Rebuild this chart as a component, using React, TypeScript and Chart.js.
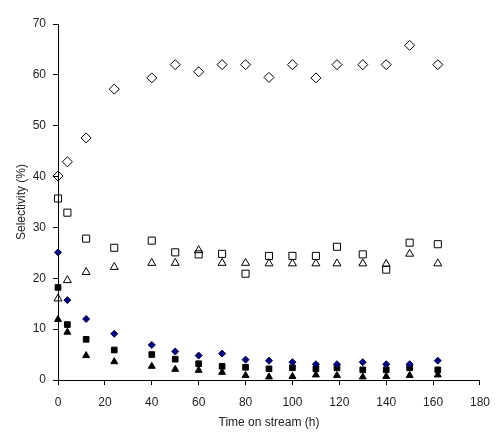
import React, { useEffect, useRef } from "react";
import { Chart, registerables } from "chart.js";

Chart.register(...registerables);

const times = [0, 4, 12, 24, 40, 50, 60, 70, 80, 90, 100, 110, 119, 130, 140, 150, 162];
const openDiamond = [40.1, 42.9, 47.6, 57.2, 59.4, 62.0, 60.6, 62.0, 62.0, 59.5, 62.0, 59.4, 62.0, 62.0, 62.0, 65.8, 62.0];
const openSquare = [35.7, 32.9, 27.8, 26.0, 27.4, 25.1, 24.7, 24.8, 20.9, 24.4, 24.4, 24.4, 26.2, 24.7, 21.7, 27.0, 26.7];
const openTriangle = [16.0, 19.6, 21.2, 22.2, 23.0, 23.0, 25.5, 23.0, 23.0, 22.9, 22.9, 22.9, 22.9, 22.9, 22.8, 24.8, 22.9];
const filledDiamond = [25.1, 15.7, 12.0, 9.1, 6.9, 5.6, 4.8, 5.2, 4.0, 3.8, 3.5, 3.1, 3.1, 3.5, 3.1, 3.1, 3.8];
const filledSquare = [18.2, 10.9, 8.0, 5.9, 5.0, 4.1, 3.2, 2.7, 2.5, 2.2, 2.4, 2.2, 2.4, 2.0, 2.0, 2.4, 2.0];
const filledTriangle = [11.9, 9.4, 4.8, 3.6, 2.7, 2.1, 1.9, 1.5, 0.9, 0.6, 0.7, 1.0, 0.9, 0.6, 0.7, 0.9, 1.0];

const xTitle = "Time on stream (h)";
const yTitle = "Selectivity (%)";

const toPoints = (ys: number[]) => times.map((t, i) => ({ x: t, y: ys[i] }));

export default function App() {
  const ref = useRef<HTMLCanvasElement | null>(null);

  useEffect(() => {
    if (!ref.current) return;
    const font = { family: "'Liberation Sans', Arial, sans-serif", size: 12 };
    const base = { showLine: false, clip: false as any, borderWidth: 1 };
    const chart = new Chart(ref.current, {
      type: "scatter",
      data: {
        datasets: [
          { ...base, label: "a", data: toPoints(openDiamond), pointStyle: "rectRot", pointRadius: 5, backgroundColor: "rgba(0,0,0,0)", borderColor: "#000" },
          { ...base, label: "b", data: toPoints(openSquare), pointStyle: "rect", pointRadius: 5, backgroundColor: "rgba(0,0,0,0)", borderColor: "#000" },
          { ...base, label: "c", data: toPoints(openTriangle), pointStyle: "triangle", pointRadius: 4.6, backgroundColor: "rgba(0,0,0,0)", borderColor: "#000" },
          { ...base, label: "d", data: toPoints(filledDiamond), pointStyle: "rectRot", pointRadius: 3.5, backgroundColor: "#000080", borderColor: "#000040" },
          { ...base, label: "e", data: toPoints(filledSquare), pointStyle: "rect", pointRadius: 4, backgroundColor: "#000", borderColor: "#000" },
          { ...base, label: "f", data: toPoints(filledTriangle), pointStyle: "triangle", pointRadius: 4, backgroundColor: "#000", borderColor: "#000" },
        ],
      },
      options: {
        responsive: false,
        animation: false,
        layout: { padding: { top: 24, right: 18, left: 0, bottom: 0 } },
        plugins: { legend: { display: false }, tooltip: { enabled: false } },
        scales: {
          x: {
            type: "linear",
            min: 0,
            max: 180,
            ticks: { stepSize: 20, color: "#222", font, padding: 10, maxRotation: 0 },
            grid: { drawOnChartArea: false, drawTicks: true, tickLength: 5, color: "#000" },
            border: { display: true, color: "#000", width: 1 },
            title: { display: true, text: xTitle, color: "#222", font, padding: { top: 4, bottom: 16 } },
            afterFit: (s: any) => { s.height = 66; },
          },
          y: {
            type: "linear",
            min: 0,
            max: 70,
            ticks: { stepSize: 10, color: "#222", font, padding: 7 },
            grid: { drawOnChartArea: false, drawTicks: true, tickLength: 5, color: "#000" },
            border: { display: true, color: "#000", width: 1 },
            title: { display: true, text: yTitle, color: "#222", font, padding: { top: 14, bottom: 4 } },
            afterFit: (s: any) => { s.width = 58; },
          },
        },
      },
    });
    return () => chart.destroy();
  }, []);

  return (
    <div style={{ position: "absolute", left: 0, top: 0, width: 500, height: 446, background: "#fff" }}>
      <canvas ref={ref} width={500} height={446} />
    </div>
  );
}
